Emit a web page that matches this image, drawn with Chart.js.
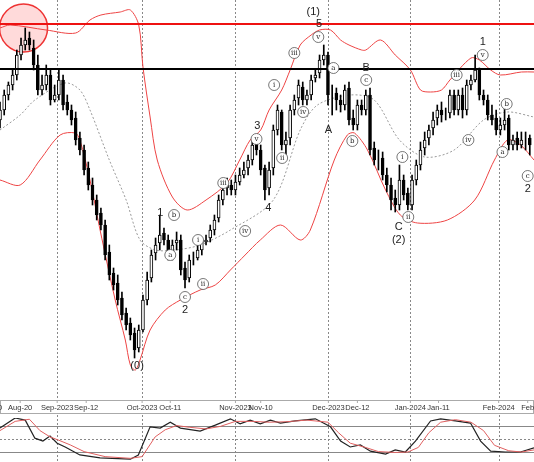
<!DOCTYPE html>
<html><head>
<script src="https://cdn.jsdelivr.net/npm/chart.js@4/dist/chart.umd.min.js"></script>
<style>
body{margin:0;background:#fff;}
#wrap{position:relative;width:534px;height:462px;}
#main{position:absolute;left:0;top:0;}
#osc{position:absolute;left:0;top:415px;}
</style>
</head><body>
<div id="wrap">
<canvas id="main" width="534" height="415"></canvas>
<canvas id="osc" width="534" height="47"></canvas>
</div>
<script>
// candles, one per trading day (index 0 = mid Aug 2023), price in chart units
const opens = [280,290,305,315,325,345,355,362,352,335,310,315,325,300,305,320,298,290,282,262,250,232,215,200,187,175,148,127,117,102,87,77,67,52,70,100,122,147,157,167,160,147,157,160,132,122,140,142,150,158,162,170,182,200,212,215,210,218,225,232,240,256,250,232,212,232,270,288,255,262,290,302,313,300,305,322,327,340,345,305,307,300,295,312,282,275,295,290,305,252,240,242,225,215,202,195,220,207,195,220,235,252,262,272,282,290,285,287,305,290,305,290,315,320,330,305,300,285,282,270,275,282,255,262,255,260,262];
const highs = [298,310,318,330,350,362,372,368,360,345,325,335,330,315,330,325,305,295,288,268,255,238,222,205,192,180,155,132,125,108,92,82,72,75,105,128,150,162,185,172,165,160,168,165,138,145,148,155,162,165,175,185,205,215,222,220,225,232,238,245,262,262,255,235,238,275,295,290,268,295,305,320,318,310,325,330,345,355,348,315,312,305,315,318,290,300,300,310,312,258,250,248,232,222,210,235,225,212,225,240,258,268,275,288,295,298,292,310,310,310,312,320,325,345,332,310,305,295,290,282,292,285,265,268,268,268,265];
const lows = [272,285,300,310,320,340,350,350,330,305,305,310,295,298,300,290,285,275,255,245,225,210,195,180,170,140,120,110,95,80,70,60,42,48,68,95,118,140,150,155,140,140,150,125,112,118,135,140,145,155,158,165,178,195,205,205,205,215,222,225,235,245,225,200,205,225,265,250,245,255,285,295,295,295,300,318,322,335,295,285,290,288,290,275,270,270,285,285,245,235,230,220,208,190,188,190,200,190,190,215,230,245,255,265,275,278,280,282,285,285,282,285,310,318,300,295,280,275,265,265,270,250,250,250,252,250,245];
const closes = [290,305,315,325,345,355,360,355,335,310,315,325,300,305,320,295,290,280,260,250,230,215,200,185,175,145,125,115,100,85,75,65,50,70,100,120,145,155,165,160,145,155,160,130,120,140,140,150,160,160,170,180,200,210,215,210,218,225,230,240,255,250,230,210,230,270,290,255,260,290,300,315,300,305,320,325,340,345,305,305,300,295,310,280,275,295,290,305,250,240,240,225,215,200,195,220,205,195,220,235,250,260,270,280,290,285,285,305,290,305,290,315,320,330,305,300,285,280,270,275,280,255,260,255,260,260,255];

// bollinger bands [day, value]
const upperBand = [[0,372],[2.4,375],[11,370],[18,367],[21.4,380],[24,385],[28.6,388],[31,390],[33,375],[34,333],[35.7,283],[37.4,240],[41,203],[44.5,190],[49,200],[54,217],[57,240],[59.5,260],[62,270],[64,290],[67,310],[69,330],[71.4,355],[74,365],[76,370],[78.6,370],[81,360],[83,355],[86,350],[87,350],[90.5,360],[94,345],[97.6,330],[100,310],[102.4,308],[105,310],[107,320],[112,342],[114,340],[116.7,330],[119,325],[124,328],[127,328]];
const middleBand = [[0,270],[4.8,285],[8.3,300],[15.5,317],[19,310],[21.4,290],[26,240],[30,200],[33.3,160],[37,150],[41.7,150],[47.6,155],[54.8,170],[65,200],[71.4,270],[75.5,295],[83.3,305],[89,300],[95,260],[101,243],[108,250],[115,280],[120.7,288],[127,283]];
const lowerBand = [[0,220],[4.8,215],[9.5,240],[14.3,265],[17.9,267],[19,260],[21.4,220],[23.8,170],[27.4,100],[29.8,60],[31,35],[32.2,30],[33.3,40],[35.7,70],[39.3,90],[42.9,100],[47.6,110],[51.2,115],[54.8,130],[58.3,145],[61.9,160],[66.7,175],[71.4,160],[73.8,170],[79.5,240],[82.6,265],[84.3,267],[87.4,250],[91.7,210],[95.2,185],[99.3,177],[106.4,180],[112.9,200],[117.6,240],[120.7,260],[123.8,255],[127,240]];

// stochastic panel, 0..100
const stochK = [[0,76],[3.6,100],[6,95],[8.3,52],[10.2,45],[11.9,57],[13.6,40],[15.5,31],[19,12],[23.8,5],[31,2],[32.9,12],[35.7,79],[38.1,76],[40.5,90],[42.9,76],[47.6,69],[51.2,83],[54.8,98],[57.1,86],[59.5,95],[61.9,86],[64.3,95],[66.7,88],[70.2,93],[75,98],[78.6,79],[81,45],[83.3,31],[85.7,36],[88.1,21],[91.7,14],[94,24],[96.4,19],[98.8,45],[102.4,93],[104.8,98],[108.3,93],[111.9,88],[114.3,45],[116.7,21],[120.2,19],[123.8,19],[127,29]];
const stochD = [[0,70],[3.6,92],[7,97],[9.5,70],[11.9,55],[14,47],[16.7,36],[20,20],[25,8],[31,4],[33.8,8],[36.9,55],[39.3,72],[42,82],[45,78],[49,74],[52.4,80],[56,92],[60,92],[64,90],[68,91],[73,95],[78,90],[80.5,65],[83.3,40],[86.9,30],[90,20],[94,18],[97,19],[99.5,30],[102,65],[104.8,90],[108.3,96],[112,90],[115,70],[117.6,35],[121,22],[124,19],[127,24]];

// date ticks [day, label]
const dateTicks = [[0,'0'],[4.8,'Aug-20'],[13.6,'Sep-2023'],[20.5,'Sep-12'],[33.8,'Oct-2023'],[40.5,'Oct-11'],[56,'Nov-2023'],[62,'Nov-10'],[78.1,'Dec-2023'],[85,'Dec-12'],[97.6,'Jan-2024'],[104.3,'Jan-11'],[118.6,'Feb-2024'],[125.5,'Feb']];
const monthLines = [13.6,33.8,56,78.1,97.6,118.6];

// wave labels [day, price, text, circled]
const waveLabels = [
  [32.6,34,'(0)',false],[38.1,187,'1',false],[41.4,185,'b',true],[40.5,145,'a',true],[47.1,160,'i',true],
  [44,103,'c',true],[44,90,'2',false],[48.3,116,'ii',true],[53.1,217,'iii',true],[58.3,169,'iv',true],
  [61.2,274,'3',false],[61,261,'v',true],[63.8,192,'4',false],[65.2,315,'i',true],[67.1,242,'ii',true],
  [70,347,'iii',true],[72.1,288,'iv',true],[75.7,363,'v',true],[75.9,376,'5',false],[74.5,388,'(1)',false],
  [79.3,332,'a',true],[78.1,270,'A',false],[87.1,332,'B',false],[87.1,320,'c',true],[83.8,259,'b',true],
  [95.7,243,'i',true],[94.8,173,'C',false],[97.1,183,'ii',true],[94.8,160,'(2)',false],[108.6,325,'iii',true],
  [111.4,260,'iv',true],[114.8,345,'v',true],[114.8,358,'1',false],[120.5,296,'b',true],[119.5,248,'a',true],
  [125.5,224,'c',true],[125.5,211,'2',false]
];
const redLevel = 376;
const blackLevel = 331;

const xMin = 0, xMax = 127;

const candleBars = opens.map((o, i) => ({x: i, y: [Math.min(o, closes[i]), Math.max(o, closes[i])]}));
const wickBars = opens.map((o, i) => ({x: i, y: [lows[i], highs[i]]}));
const bodyColors = opens.map((o, i) => closes[i] >= o ? '#ffffff' : '#000000');
const pts = a => a.map(p => ({x: p[0], y: p[1]}));

const overlay = {
  id: 'overlay',
  beforeDatasetsDraw(chart) {
    const {ctx, chartArea: ca, scales: {x, y}} = chart;
    ctx.save();
    ctx.strokeStyle = '#888'; ctx.lineWidth = 1; ctx.setLineDash([2, 2]);
    monthLines.forEach(d => {
      const px = Math.round(x.getPixelForValue(d)) + 0.5;
      ctx.beginPath(); ctx.moveTo(px, ca.top); ctx.lineTo(px, ca.bottom); ctx.stroke();
    });
    ctx.setLineDash([]);
    // circle at the top
    ctx.beginPath();
    ctx.arc(x.getPixelForValue(5.6), y.getPixelForValue(372), 24, 0, Math.PI * 2);
    ctx.fillStyle = 'rgba(255,150,150,0.35)'; ctx.fill();
    ctx.strokeStyle = '#e33'; ctx.lineWidth = 1.5; ctx.stroke();
    ctx.restore();
  },
  afterDatasetsDraw(chart) {
    const {ctx, chartArea: ca, scales: {x, y}} = chart;
    ctx.save();
    ctx.lineWidth = 2;
    ctx.strokeStyle = '#ee1111';
    let py = y.getPixelForValue(redLevel);
    ctx.beginPath(); ctx.moveTo(ca.left, py); ctx.lineTo(ca.right, py); ctx.stroke();
    ctx.strokeStyle = '#000';
    py = y.getPixelForValue(blackLevel);
    ctx.beginPath(); ctx.moveTo(ca.left, py); ctx.lineTo(ca.right, py); ctx.stroke();
    ctx.textAlign = 'center'; ctx.textBaseline = 'middle';
    waveLabels.forEach(([d, v, t, c]) => {
      const px = x.getPixelForValue(d), qy = y.getPixelForValue(v);
      if (c) {
        ctx.beginPath(); ctx.arc(px, qy, 5.5, 0, Math.PI * 2);
        ctx.fillStyle = '#fff'; ctx.fill();
        ctx.strokeStyle = '#555'; ctx.lineWidth = 0.8; ctx.stroke();
        ctx.fillStyle = '#222'; ctx.font = '7px "DejaVu Serif"';
        ctx.fillText(t, px, qy);
      } else {
        ctx.fillStyle = '#222'; ctx.font = '11px "Liberation Sans"';
        ctx.fillText(t, px, qy);
      }
    });
    // date axis band
    ctx.strokeStyle = '#aaa'; ctx.lineWidth = 1;
    ctx.strokeRect(0.5, ca.bottom + 0.5, 533, 13);
    ctx.fillStyle = '#333'; ctx.font = '7.5px "Liberation Sans"';
    dateTicks.forEach(([d, t]) => {
      const px = x.getPixelForValue(d);
      ctx.beginPath(); ctx.moveTo(px, ca.bottom); ctx.lineTo(px, ca.bottom + 3); ctx.stroke();
      ctx.fillText(t, px, ca.bottom + 8);
    });
    ctx.restore();
  }
};

new Chart(document.getElementById('main'), {
  type: 'bar',
  data: {
    datasets: [
      {type: 'line', data: pts(upperBand), borderColor: '#ee4444', borderWidth: 1, pointRadius: 0, tension: 0.3, order: 5},
      {type: 'line', data: pts(lowerBand), borderColor: '#ee4444', borderWidth: 1, pointRadius: 0, tension: 0.3, order: 5},
      {type: 'line', data: pts(middleBand), borderColor: '#999', borderWidth: 1, borderDash: [2, 2], pointRadius: 0, tension: 0.3, order: 5},
      {data: wickBars, backgroundColor: '#000', barThickness: 1, grouped: false, order: 2},
      {data: candleBars, backgroundColor: bodyColors, borderColor: '#000', borderWidth: 1, borderSkipped: false, barThickness: 3, grouped: false, order: 1}
    ]
  },
  options: {
    responsive: false, animation: false,
    layout: {padding: {bottom: 15}},
    plugins: {legend: {display: false}, tooltip: {enabled: false}},
    scales: {
      x: {type: 'linear', min: xMin, max: xMax, offset: false, display: false},
      y: {min: 0, max: 400, display: false}
    }
  },
  plugins: [overlay]
});

const oscLines = {
  id: 'oscLines',
  beforeDatasetsDraw(chart) {
    const {ctx, chartArea: ca, scales: {x, y}} = chart;
    ctx.save();
    ctx.strokeStyle = '#888'; ctx.lineWidth = 1;
    [80, 20].forEach(v => {
      const py = Math.round(y.getPixelForValue(v)) + 0.5;
      ctx.beginPath(); ctx.moveTo(ca.left, py); ctx.lineTo(ca.right, py); ctx.stroke();
    });
    ctx.setLineDash([2, 2]);
    let py = Math.round(y.getPixelForValue(50)) + 0.5;
    ctx.beginPath(); ctx.moveTo(ca.left, py); ctx.lineTo(ca.right, py); ctx.stroke();
    monthLines.forEach(d => {
      const px = Math.round(x.getPixelForValue(d)) + 0.5;
      ctx.beginPath(); ctx.moveTo(px, 0); ctx.lineTo(px, chart.height); ctx.stroke();
    });
    ctx.restore();
  }
};

new Chart(document.getElementById('osc'), {
  type: 'line',
  data: {
    datasets: [
      {data: pts(stochD), borderColor: '#e06060', borderWidth: 1, pointRadius: 0},
      {data: pts(stochK), borderColor: '#222', borderWidth: 1.2, pointRadius: 0}
    ]
  },
  options: {
    responsive: false, animation: false,
    layout: {padding: {top: 3, bottom: 2}},
    plugins: {legend: {display: false}, tooltip: {enabled: false}},
    scales: {
      x: {type: 'linear', min: xMin, max: xMax, display: false},
      y: {min: 0, max: 100, display: false}
    }
  },
  plugins: [oscLines]
});
</script>
</body></html>
